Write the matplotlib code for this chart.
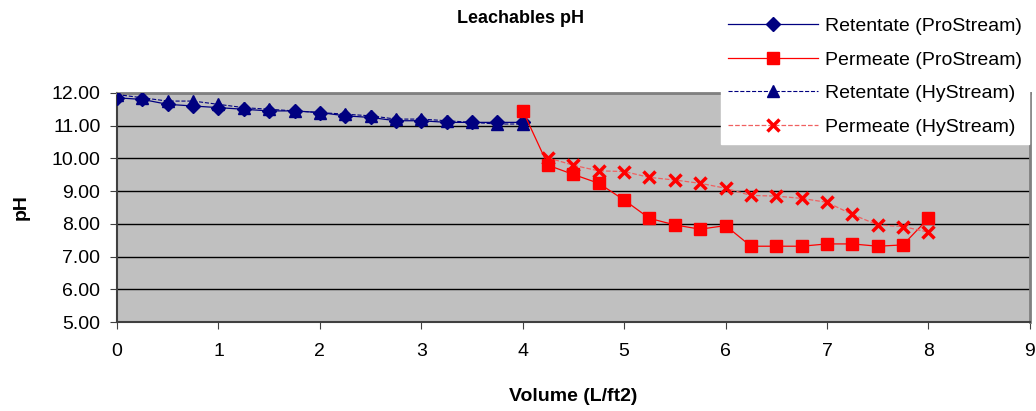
import numpy as np
import matplotlib.pyplot as plt

plt.rcParams['font.family'] = ['Liberation Sans', 'DejaVu Sans']

# retentate: 0 -> 4 L/ft2, permeate: 4 -> 8 L/ft2, step 0.25
vol_ret = np.arange(0, 4.01, 0.25)
vol_perm = np.arange(4, 8.01, 0.25)
vol_perm_hy = np.arange(4.25, 8.01, 0.25)

ret_pro = [11.85, 11.8, 11.65, 11.6, 11.55, 11.5, 11.45, 11.45, 11.4, 11.3,
           11.25, 11.15, 11.15, 11.1, 11.1, 11.1, 11.1]
perm_pro = [11.46, 9.79, 9.51, 9.24, 8.73, 8.17, 7.97, 7.84, 7.95, 7.32,
            7.32, 7.32, 7.39, 7.39, 7.32, 7.36, 8.17]
ret_hy = [11.95, 11.85, 11.75, 11.75, 11.65, 11.55, 11.5, 11.45, 11.4, 11.35,
          11.3, 11.2, 11.2, 11.15, 11.1, 11.05, 11.05]
perm_hy = [10.02, 9.79, 9.62, 9.6, 9.42, 9.34, 9.24, 9.09, 8.87, 8.85,
           8.78, 8.66, 8.29, 7.97, 7.92, 7.75]

fig = plt.figure(figsize=(10.36, 4.11), dpi=100)
ax = fig.add_axes([0.113, 0.216, 0.881, 0.558])
ax.set_facecolor('#C0C0C0')

navy = '#000080'
red = '#FF0000'
ax.plot(vol_ret, ret_pro, '-', color=navy, lw=0.9, marker='D', ms=7,
        label='Retentate (ProStream)', zorder=3)
ax.plot(vol_perm, perm_pro, '-', color=red, lw=0.9, marker='s', ms=8,
        label='Permeate (ProStream)', zorder=3)
ax.plot(vol_ret, ret_hy, '--', color=navy, lw=0.8, marker='^', ms=8,
        label='Retentate (HyStream)', zorder=3)
ax.plot(vol_perm_hy, perm_hy, '--', color='#F06060', lw=0.9, marker='x', ms=8,
        mew=2.5, mec=red, label='Permeate (HyStream)', zorder=3)

ax.set_xlim(0, 9)
ax.set_ylim(5, 12)
ax.set_xticks(range(0, 10))
ax.set_yticks(np.arange(5, 12.1, 1))
ax.set_yticklabels(['%.2f' % v for v in np.arange(5, 12.1, 1)])
ax.yaxis.grid(True, color='black', lw=1.0)
ax.set_axisbelow(True)
ax.tick_params(labelsize=14, direction='out', length=5, color='#404040')
ax.tick_params(axis='x', pad=10)
ax.tick_params(axis='y', pad=7)
for s in ['left', 'bottom']:
    ax.spines[s].set_color('#404040')
    ax.spines[s].set_linewidth(1.5)
for s in ['top', 'right']:
    ax.spines[s].set_color('#808080')
    ax.spines[s].set_linewidth(2)

ax.set_xlabel('Volume (L/ft2)', fontsize=14, fontweight='bold', labelpad=20)
ax.set_ylabel('pH', fontsize=14, fontweight='bold', labelpad=16)
fig.text(0.502, 0.955, 'Leachables pH', fontsize=13, fontweight='bold',
         ha='center', va='center')

leg = fig.legend(loc='upper right', bbox_to_anchor=(1.003, 1.0), fontsize=14,
                 frameon=True, fancybox=False, handlelength=4.6,
                 labelspacing=0.82, borderpad=0.4, handletextpad=0.35)
leg.get_frame().set_edgecolor('white')
leg.get_frame().set_facecolor('white')
leg.get_frame().set_alpha(1)

fig.savefig('out.png', dpi=100)
